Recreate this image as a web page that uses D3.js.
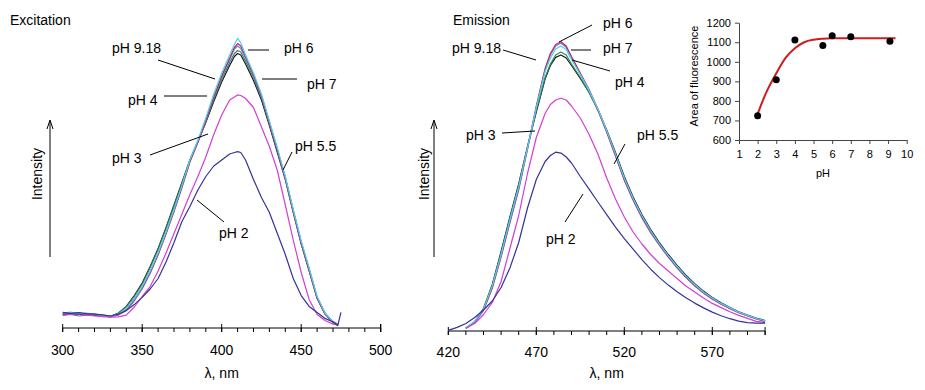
<!DOCTYPE html>
<html><head><meta charset="utf-8">
<script src="https://cdn.jsdelivr.net/npm/d3@7"></script>
<style>
html,body{margin:0;padding:0;background:#fff;}
svg text{font-family:"Liberation Sans",Arial,sans-serif;fill:#000;}
</style></head>
<body><svg id="c" width="925" height="390"></svg>
<script>
// ---------- DATA ----------
const seriesNames = ["pH 4","pH 5.5","pH 7","pH 6","pH 9.18","pH 3","pH 2"];
const seriesColors = ["#1a1a1a","#2e8b57","#8a6fd8","#b03060","#4fd0f0","#d23fd2","#333399"];

// Excitation (nm)
const exWl = [300,305,310,315,320,325,330,335,340,345,350,355,360,365,370,375,380,385,390,395,400,405,408,410,412,415,420,425,430,435,440,445,450,455,460,465,470,473,475];
const exPH4   = [4.4,4.7,4.5,4.6,4.3,4.1,3.7,4.9,7.2,10.8,15.0,20.5,26.5,33.5,41.0,48.5,56.0,62.0,68.5,75.5,82.0,87.5,90.5,91.5,91.0,88.0,82.5,76.0,67.5,58.5,49.5,38.5,28.0,19.0,9.8,4.6,1.8,0.9,null];
const exPH55  = [4.9,4.6,4.8,4.5,4.4,4.0,3.9,5.0,7.0,10.5,14.6,20.2,26.2,33.2,40.6,48.2,56.0,62.3,69.0,76.2,82.8,88.5,91.5,92.5,92.0,89.0,83.5,76.8,68.2,59.3,50.2,39.2,28.6,19.6,10.3,4.9,2.1,1.1,null];
const exPH7   = [4.8,4.5,5.1,4.4,4.7,4.0,3.8,4.3,5.8,9.0,13.0,18.2,24.3,31.3,38.8,46.8,55.2,61.8,69.0,76.8,83.6,89.5,93.0,94.0,93.2,90.0,84.0,77.2,68.3,59.3,49.8,38.8,28.3,19.3,10.0,4.7,2.2,1.3,null];
const exPH6   = [4.6,5.0,4.9,4.7,4.5,4.3,4.0,4.4,6.2,9.5,13.5,18.6,24.6,31.6,39.0,47.0,55.5,62.0,69.3,77.0,84.0,90.0,93.5,94.8,94.0,90.5,84.5,77.5,68.5,59.5,50.0,39.0,28.5,19.5,10.2,4.8,2.0,1.2,null];
const exPH918 = [5.0,5.3,4.8,5.0,4.6,4.2,3.9,4.6,6.5,9.8,13.8,19.0,25.0,32.0,39.5,47.5,56.0,62.5,70.0,78.0,85.0,91.0,94.5,96.6,95.0,91.0,85.0,78.0,69.0,60.0,50.5,39.5,29.0,20.0,10.5,5.0,2.0,1.0,null];
const exPH3   = [4.2,4.5,4.0,4.3,4.0,3.8,3.6,3.7,4.3,7.0,10.5,13.8,19.0,25.0,31.5,38.0,44.5,50.5,57.0,64.5,71.0,76.0,77.0,77.7,77.5,76.5,73.5,67.0,60.5,52.5,41.0,29.3,18.5,9.5,4.5,2.5,1.3,1.0,null];
const exPH2   = [5.2,4.9,5.1,4.8,4.6,4.4,4.0,4.6,5.8,7.8,10.2,13.0,16.5,22.0,28.5,35.5,40.5,46.0,50.5,54.0,56.0,58.0,58.5,58.8,58.5,56.0,49.5,43.5,38.5,31.5,24.5,16.5,10.8,7.2,5.2,3.2,2.0,0.8,5.2];

// Emission (nm)
const emWl = [420,425,430,435,440,445,450,455,460,465,470,475,478,481,484,487,490,495,500,505,510,515,520,525,530,535,540,545,550,555,560,565,570,575,580,585,590,595,600];
const emPH4   = [null,null,0.9,3.1,7.5,15.5,26.5,38.0,49.0,61.5,73.0,84.0,88.5,91.2,92.0,91.0,88.5,84.2,79.5,73.8,67.0,59.5,51.5,44.7,38.8,33.8,29.4,25.5,21.9,18.6,15.8,13.3,11.2,9.4,7.8,6.4,5.3,4.3,3.5];
const emPH55  = [null,null,0.8,3.0,7.2,15.2,26.0,37.5,48.5,61.0,73.5,84.5,89.0,92.0,93.0,92.0,89.0,84.5,79.5,73.5,66.5,58.8,50.8,44.0,38.2,33.2,28.9,25.0,21.4,18.2,15.4,12.9,10.9,9.1,7.6,6.2,5.1,4.1,3.3];
const emPH7   = [null,null,0.9,2.8,6.8,14.2,24.6,36.0,47.0,60.5,74.5,87.0,92.0,95.0,96.0,94.6,91.0,85.6,80.0,73.6,66.2,58.2,50.2,43.5,37.7,32.7,28.5,24.6,21.0,17.8,15.0,12.6,10.6,8.9,7.4,6.1,5.0,4.0,3.2];
const emPH6   = [null,null,1.0,3.0,7.0,14.5,25.0,36.5,47.5,61.0,75.0,87.5,92.5,95.5,96.4,95.0,91.5,86.0,80.5,74.0,66.5,58.5,50.5,43.8,38.0,33.0,28.7,24.8,21.2,18.0,15.2,12.8,10.8,9.0,7.5,6.2,5.1,4.1,3.3];
const emPH918 = [null,null,1.1,3.2,7.3,15.0,25.5,37.0,48.0,61.0,74.5,86.5,91.0,94.0,95.0,93.8,90.5,85.5,80.2,74.0,66.8,59.0,51.0,44.2,38.4,33.4,29.0,25.1,21.5,18.3,15.5,13.0,11.0,9.2,7.7,6.3,5.2,4.2,3.4];
const emPH3   = [null,null,0.9,2.5,5.5,9.5,16.5,27.5,38.5,52.5,64.5,72.5,75.5,77.0,77.6,77.0,75.0,71.0,65.5,59.0,51.0,44.0,38.0,33.0,29.0,25.5,22.5,20.0,17.5,15.0,13.0,11.0,9.2,7.8,6.4,5.2,4.2,3.2,2.8];
const emPH2   = [0.2,1.2,2.5,4.5,7.0,10.0,14.5,21.0,29.5,41.0,50.5,56.5,58.5,59.6,59.3,58.0,56.0,51.5,47.3,43.0,38.8,34.6,30.8,27.3,23.8,20.6,17.8,15.3,13.1,11.1,9.3,7.7,6.3,5.1,4.1,3.3,2.8,2.6,2.6];

const exTicks = [300,350,400,450,500];
const emTicks = [420,470,520,570];

// Inset: area of fluorescence vs pH
const insetPH   = [2,3,4,5.5,6,7,9.1];
const insetArea = [724,908,1111,1084,1133,1128,1105];
const fitPH   = [2,2.4,3,3.5,4,4.5,5,5.5,6,7,8,9.4];
const fitArea = [733,830,941,1020,1069,1100,1113,1118,1120,1120,1120,1120];
const insetXTicks = [1,2,3,4,5,6,7,8,9,10];
const insetYTicks = [600,700,800,900,1000,1100,1200];

// ---------- DRAW ----------
const svg = d3.select("#c");
const FONT = 14;

function spectrumPanel(cfg){
  const x = d3.scaleLinear().domain(cfg.xDomain).range(cfg.xRange);
  const y = d3.scaleLinear().domain([0,100]).range([cfg.y0, cfg.y0-300]);
  const g = svg.append("g");
  const ax = g.append("g").attr("transform",`translate(0,${cfg.y0})`);
  ax.append("line").attr("x1",x(cfg.xDomain[0])).attr("x2",x(cfg.xDomain[1])).attr("stroke","#000");
  const minor = d3.range(cfg.xDomain[0], cfg.xDomain[1]+0.1, 10);
  ax.selectAll("line.mi").data(minor).enter().append("line")
    .attr("x1",d=>x(d)).attr("x2",d=>x(d)).attr("y1",0).attr("y2",4).attr("stroke","#000");
  const majors = cfg.ticks.concat([cfg.xDomain[1]]);
  ax.selectAll("line.ma").data(majors).enter().append("line")
    .attr("x1",d=>x(d)).attr("x2",d=>x(d)).attr("y1",-4).attr("y2",4).attr("stroke","#000");
  ax.selectAll("text").data(cfg.ticks).enter().append("text")
    .attr("x",d=>x(d)).attr("y",cfg.tickY-cfg.y0).attr("text-anchor","middle")
    .attr("dominant-baseline","central").attr("font-size",FONT).text(d=>d);
  g.append("text").attr("x",x(cfg.lambdaAt)).attr("y",373).attr("text-anchor","middle")
    .attr("dominant-baseline","central").attr("font-size",FONT).text("λ, nm");
  g.append("text").attr("x",cfg.titleX).attr("y",20).attr("dominant-baseline","central")
    .attr("font-size",FONT).text(cfg.title);
  g.append("line").attr("x1",cfg.arrowX).attr("x2",cfg.arrowX).attr("y1",257).attr("y2",121).attr("stroke","#000");
  g.append("path").attr("d",`M${cfg.arrowX-3},129 L${cfg.arrowX},120 L${cfg.arrowX+3},129`)
    .attr("fill","none").attr("stroke","#000");
  g.append("text").attr("transform",`translate(${cfg.intX},174) rotate(-90)`)
    .attr("text-anchor","middle").attr("dominant-baseline","central").attr("font-size",FONT).text("Intensity");
  const line = d3.line().defined(d=>d[1]!==null).x(d=>x(d[0])).y(d=>y(d[1]));
  cfg.series.forEach((vals,i)=>{
    const pts = cfg.wl.map((w,j)=>[w,vals[j]]);
    g.append("path").datum(pts).attr("d",line).attr("fill","none")
      .attr("stroke",seriesColors[i]).attr("stroke-width",1.2).attr("stroke-linejoin","round");
  });
  cfg.labels.forEach(l=>{
    g.append("line").attr("x1",l.l[0]).attr("y1",l.l[1]).attr("x2",l.l[2]).attr("y2",l.l[3])
      .attr("stroke","#000").attr("stroke-width",1);
    g.append("text").attr("x",l.x).attr("y",l.y).attr("dominant-baseline","central")
      .attr("font-size",FONT).text(l.t);
  });
}

spectrumPanel({
  xDomain:[300,500], xRange:[62.7,380.7], y0:328, tickY:350, lambdaAt:400,
  ticks:exTicks, title:"Excitation", titleX:10, arrowX:50, intX:37,
  wl:exWl, series:[exPH4,exPH55,exPH7,exPH6,exPH918,exPH3,exPH2],
  labels:[
    {t:"pH 9.18",x:112,y:48,l:[158,60,215,79]},
    {t:"pH 6",x:284,y:48,l:[248,50,269,50]},
    {t:"pH 7",x:307,y:84,l:[262,79,297,79]},
    {t:"pH 4",x:128,y:100,l:[164,96,207,96]},
    {t:"pH 3",x:112,y:158,l:[150,155,208,134]},
    {t:"pH 5.5",x:295,y:146,l:[292,152,283,170]},
    {t:"pH 2",x:219,y:233,l:[224,222,197,200]}
  ]
});

spectrumPanel({
  xDomain:[420,600], xRange:[448.3,765.1], y0:331, tickY:352, lambdaAt:510,
  ticks:emTicks, title:"Emission", titleX:453, arrowX:434, intX:424,
  wl:emWl, series:[emPH4,emPH55,emPH7,emPH6,emPH918,emPH3,emPH2],
  labels:[
    {t:"pH 6",x:603,y:23,l:[592,25,559,42]},
    {t:"pH 9.18",x:452,y:48,l:[503,50,536,60]},
    {t:"pH 7",x:603,y:48,l:[571,50,591,50]},
    {t:"pH 4",x:615,y:82,l:[572,60,610,71]},
    {t:"pH 3",x:466,y:135,l:[502,133,535,131]},
    {t:"pH 5.5",x:637,y:135,l:[625,144,614,164]},
    {t:"pH 2",x:546,y:239,l:[565,222,583,194]}
  ]
});

// Inset
(function(){
  const x = d3.scaleLinear().domain([1,10]).range([739,906.7]);
  const y = d3.scaleLinear().domain([600,1200]).range([140,22.7]);
  const g = svg.append("g");
  const xa = g.append("g").attr("transform",`translate(0,${y(600)})`)
    .call(d3.axisBottom(x).tickValues(insetXTicks).tickSize(4).tickSizeOuter(0).tickFormat(d3.format("d")));
  const ya = g.append("g").attr("transform",`translate(${x(1)},0)`)
    .call(d3.axisLeft(y).tickValues(insetYTicks).tickSize(4).tickSizeOuter(0).tickFormat(d3.format("d")));
  [xa,ya].forEach(a=>{
    a.selectAll("path,line").attr("stroke","#444");
    a.selectAll("text").attr("font-size",11).attr("font-family","Liberation Sans, Arial, sans-serif").attr("fill","#000");
  });
  xa.selectAll("text").attr("dy","0.75em").attr("y",10);
  ya.selectAll("text").attr("x",-8);
  g.append("text").attr("x",823).attr("y",173).attr("text-anchor","middle")
    .attr("dominant-baseline","central").attr("font-size",11).text("pH");
  g.append("text").attr("transform","translate(694,76) rotate(-90)").attr("text-anchor","middle")
    .attr("dominant-baseline","central").attr("font-size",11).text("Area of fluorescence");
  const fit = fitPH.map((p,i)=>[p,fitArea[i]]);
  g.append("path").datum(fit).attr("d",d3.line().curve(d3.curveMonotoneX).x(d=>x(d[0])).y(d=>y(d[1])))
    .attr("fill","none").attr("stroke","#d01c1c").attr("stroke-width",2);
  g.selectAll("circle").data(insetPH.map((p,i)=>[p,insetArea[i]])).enter().append("circle")
    .attr("cx",d=>x(d[0])).attr("cy",d=>y(d[1])).attr("r",3.5).attr("fill","#000");
})();
</script></body></html>
